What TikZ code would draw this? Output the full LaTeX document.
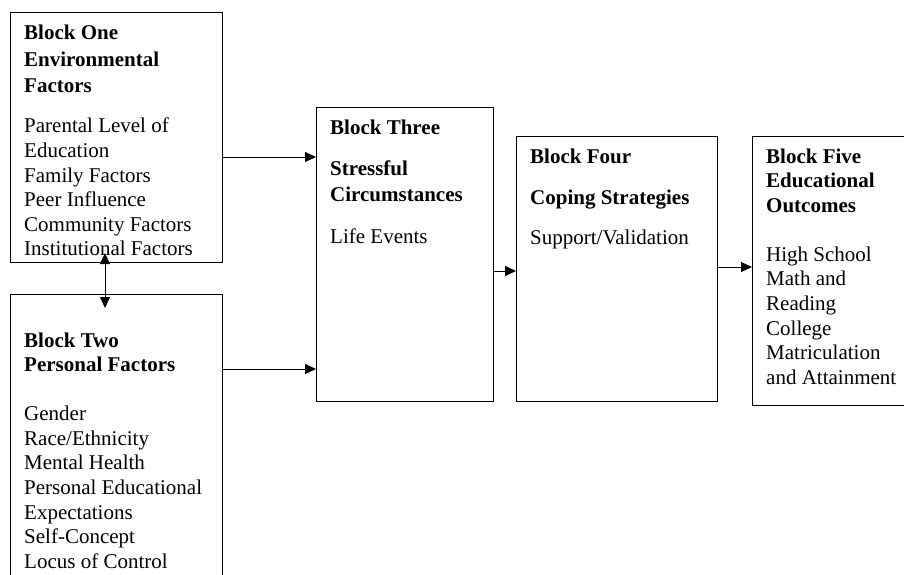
\documentclass[tikz,border=0pt]{standalone}
\usepackage{fontspec}
\setmainfont{Liberation Serif}
\usetikzlibrary{arrows.meta}

\begin{document}
\begin{tikzpicture}[x=1pt, y=-1pt,
    block/.style={draw, line width=1.1pt, anchor=north west, inner sep=0pt},
    txt/.style={anchor=base west, inner sep=0pt, font=\fontsize{21}{24.6}\selectfont},
    arr/.style={line width=1pt, -{Triangle[length=11pt, width=10pt]}},
    dblarr/.style={line width=1pt, {Triangle[length=11pt, width=10pt]}-{Triangle[length=11pt, width=10pt]}}]
    \clip (0, 0) rectangle (904, 575);
    \useasboundingbox (0, 0) rectangle (904, 575);

    % boxes
    \node [block, minimum width=212pt, minimum height=250pt] (one) at (10, 12) {};
    \node [block, minimum width=212pt, minimum height=290pt] (two) at (10, 294) {};
    \node [block, minimum width=177pt, minimum height=294pt] (three) at (316, 107) {};
    \node [block, minimum width=201pt, minimum height=265pt] (four) at (516, 136) {};
    \node [block, minimum width=170pt, minimum height=269pt] (five) at (752, 136) {};

    % texts
    \node [txt] (onetext) at (24, 40) {\parbox[t]{205pt}{\textbf{Block One}\\[1.9pt]
        \textbf{Environmental}\\[1.9pt] \textbf{Factors}\\[15.4pt]
        Parental Level of\\ Education\\ Family Factors\\ Peer Influence\\
        Community Factors\\ Institutional Factors}};
    \node [txt] (twotext) at (24, 347) {\parbox[t]{205pt}{\textbf{Block Two}\\
        \textbf{Personal Factors}\\[24.4pt]
        Gender\\ Race/Ethnicity\\ Mental Health\\ Personal Educational\\
        Expectations\\ Self-Concept\\ Locus of Control}};
    \node [txt] (threetext) at (330, 134) {\parbox[t]{170pt}{\textbf{Block Three}\\[16.4pt]
        \textbf{Stressful}\\[1.4pt] \textbf{Circumstances}\\[17.4pt]
        Life Events}};
    \node [txt] (fourtext) at (530, 163) {\parbox[t]{190pt}{\textbf{Block Four}\\[16.4pt]
        \textbf{Coping Strategies}\\[15.4pt]
        Support/Validation}};
    \node [txt] (fivetext) at (766, 163) {\parbox[t]{160pt}{\textbf{Block Five}\\
        \textbf{Educational}\\ \textbf{Outcomes}\\[24.4pt]
        High School\\ Math and\\ Reading\\ College\\ Matriculation\\ and Attainment}};

    % connectors
    \draw [arr] (one.east |- 0, 157) -- (three.west |- 0, 157);
    \draw [arr] (two.east |- 0, 369) -- (three.west |- 0, 369);
    \draw [dblarr, shorten <=-10pt, shorten >=-14pt] (one.south -| 105, 0) -- (two.north -| 105, 0);
    \draw [arr] (three.east |- 0, 271) -- (four.west |- 0, 271);
    \draw [arr] (four.east |- 0, 267) -- (five.west |- 0, 267);
\end{tikzpicture}
\end{document}
